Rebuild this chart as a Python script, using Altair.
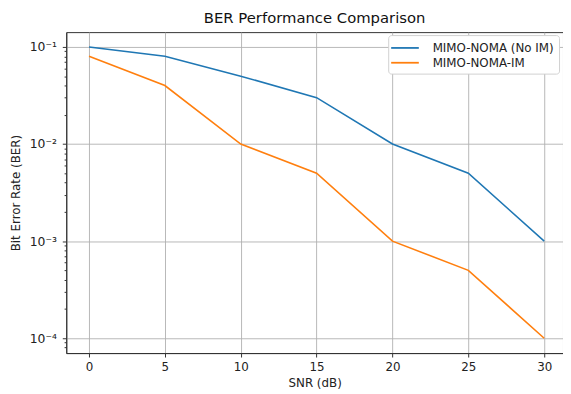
import altair as alt
import pandas as pd

snr = [0, 5, 10, 15, 20, 25, 30]
ber_no_im = [0.1, 0.08, 0.05, 0.03, 0.01, 0.005, 0.001]
ber_im = [0.08, 0.04, 0.01, 0.005, 0.001, 0.0005, 0.0001]
series = ["MIMO-NOMA (No IM)", "MIMO-NOMA-IM"]
colors = ["#1f77b4", "#ff7f0e"]
x_ticks = [0, 5, 10, 15, 20, 25, 30]
y_major = [0.0001, 0.001, 0.01, 0.1]
y_minor = [8e-5, 9e-5,
           2e-4, 3e-4, 4e-4, 5e-4, 6e-4, 7e-4, 8e-4, 9e-4,
           2e-3, 3e-3, 4e-3, 5e-3, 6e-3, 7e-3, 8e-3, 9e-3,
           2e-2, 3e-2, 4e-2, 5e-2, 6e-2, 7e-2, 8e-2, 9e-2]

rows = []
for s, vals in zip(series, [ber_no_im, ber_im]):
    for x, v in zip(snr, vals):
        rows.append({"snr": x, "ber": v, "series": s})
df = pd.DataFrame(rows)

FONT = "DejaVu Sans"
is_major = "abs(log(datum.value)/LN10 - round(log(datum.value)/LN10)) < 0.01"
exp = "round(log(datum.value)/LN10)"
label_expr = (f"({is_major}) ? '10' + ({exp} == -1 ? '⁻¹' : {exp} == -2 ? '⁻²' : "
              f"{exp} == -3 ? '⁻³' : {exp} == -4 ? '⁻⁴' : '') : ''")

chart = alt.Chart(df).mark_line(strokeWidth=1.6).encode(
    x=alt.X("snr:Q", title="SNR (dB)",
            scale=alt.Scale(domain=[-1.5, 31.24], nice=False, zero=False),
            axis=alt.Axis(values=x_ticks, grid=True, gridColor="#b0b0b0", gridWidth=0.9,
                          tickColor="#333", tickSize=4, domainColor="#333",
                          labelFont=FONT, labelFontSize=12, labelColor="#222",
                          titleFont=FONT, titleFontSize=12, titleFontWeight="normal",
                          titleColor="#222", labelPadding=5, titlePadding=5)),
    y=alt.Y("ber:Q", title="Bit Error Rate (BER)",
            scale=alt.Scale(type="log", domain=[7.03e-5, 0.142], nice=False),
            axis=alt.Axis(values=y_major + y_minor, labelExpr=label_expr,
                          grid=True, gridColor="#b0b0b0", gridWidth=0.9,
                          gridOpacity={"condition": {"test": is_major, "value": 1}, "value": 0},
                          tickSize={"condition": {"test": is_major, "value": 4}, "value": 2.2},
                          tickColor="#333", domainColor="#333",
                          labelFont=FONT, labelFontSize=12.5, labelColor="#222",
                          titleFont=FONT, titleFontSize=12, titleFontWeight="normal",
                          titleColor="#222", labelPadding=6, titlePadding=7)),
    color=alt.Color("series:N", scale=alt.Scale(domain=series, range=colors),
                    legend=alt.Legend(title=None, orient="none", legendX=326, legendY=3,
                                      symbolType="M-2,0H2", symbolStrokeWidth=1.8, symbolSize=196,
                                      symbolOffset=4,
                                      labelFont=FONT, labelFontSize=12, labelColor="#222",
                                      labelOffset=20,
                                      fillColor="white", strokeColor="#d0d0d0",
                                      padding=5, cornerRadius=3, rowPadding=1)),
).properties(
    width=503, height=325,
    title=alt.Title("BER Performance Comparison", font=FONT, fontSize=15,
                    fontWeight="normal", color="#111", offset=6, anchor="middle"),
    autosize=alt.AutoSizeParams(type="none"),
    padding={"left": 59, "top": 22, "right": 0, "bottom": 39},
).configure_view(stroke="#333", strokeWidth=1)

chart.save("out.html", embed_options={"renderer": "svg", "actions": False})
